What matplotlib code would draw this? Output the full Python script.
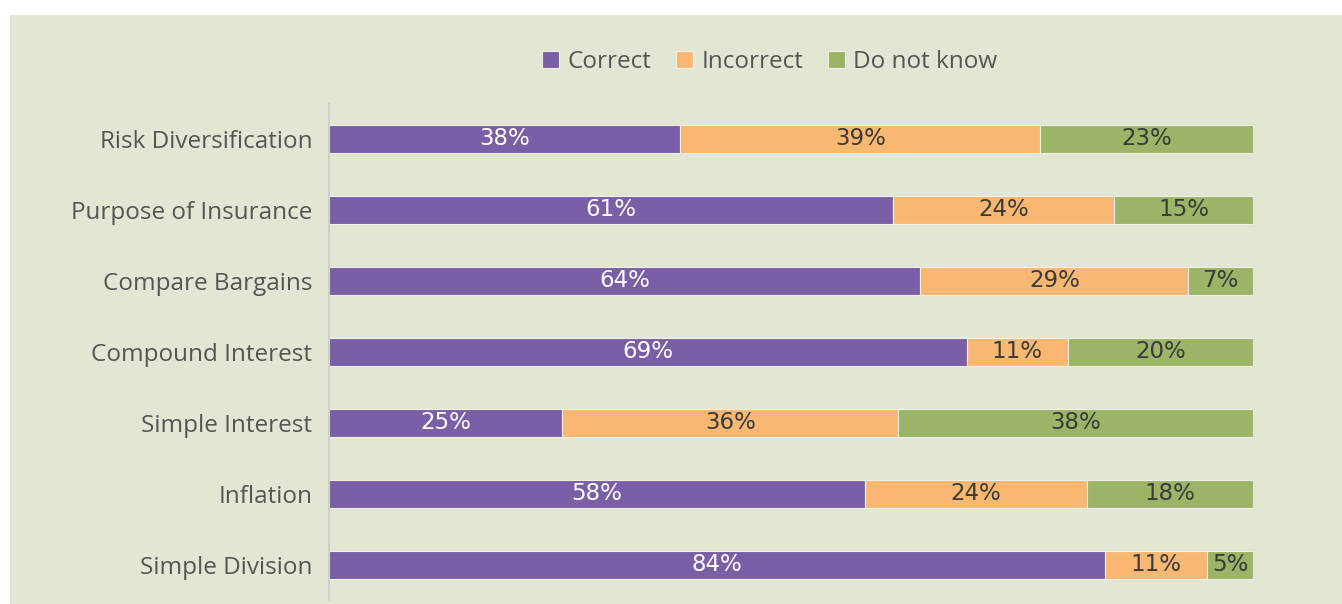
import numpy as np
import matplotlib.pyplot as plt
from matplotlib.patches import Rectangle

# --- Data ---
categories = ["Risk Diversification", "Purpose of Insurance", "Compare Bargains",
              "Compound Interest", "Simple Interest", "Inflation", "Simple Division"]
correct = [38, 61, 64, 69, 25, 58, 84]
incorrect = [39, 24, 29, 11, 36, 24, 11]
dont_know = [23, 15, 7, 20, 38, 18, 5]
series_names = ["Correct", "Incorrect", "Do not know"]

# --- Style ---
BG = "#E2E7D4"
COLORS = ["#7A5EA6", "#F9B872", "#9CB466"]
TEXT_COLORS = ["white", "#3a3a3a", "#3a3a3a"]
LABEL_FONT = "Open Sans"
NUM_FONT = ["Liberation Sans Narrow", "DejaVu Sans"]

fig = plt.figure(figsize=(13.42, 6.04), dpi=100)
fig.patch.set_facecolor("white")

# panel background (white strip on top and left, like the cropped source)
fig.add_artist(Rectangle((10 / 1342, 0), 1 - 10 / 1342, 1 - 15 / 604,
                         transform=fig.transFigure, facecolor=BG,
                         edgecolor="none", zorder=-10))

ax = fig.add_axes([329 / 1342, 4 / 604, (1253 - 329) / 1342, (600 - 103) / 604])
ax.set_facecolor("none")

data = np.array([correct, incorrect, dont_know], dtype=float)
totals = data.sum(axis=0)
shares = data / totals * 100  # 100% stacked

y = np.arange(len(categories))
left = np.zeros(len(categories))
handles = []
for k in range(3):
    bars = ax.barh(y, shares[k], left=left, height=0.39, color=COLORS[k],
                   edgecolor="#EEF0E6", linewidth=0.8, label=series_names[k])
    handles.append(bars)
    for i in range(len(categories)):
        ax.text(left[i] + shares[k][i] / 2, y[i], f"{int(data[k][i])}%",
                ha="center", va="center", fontsize=16.5, color=TEXT_COLORS[k],
                family=NUM_FONT)
    left += shares[k]

ax.set_xlim(0, 100)
ax.set_ylim(len(categories) - 0.507, -0.507)
ax.set_xticks([])
ax.set_yticks(y)
ax.set_yticklabels(categories, fontsize=17.5, color="#555555", family=LABEL_FONT)
ax.tick_params(axis="y", length=0, pad=12)
for s in ["top", "right", "bottom"]:
    ax.spines[s].set_visible(False)
ax.spines["left"].set_color("#C9CCCF")
ax.spines["left"].set_linewidth(1.2)

leg = fig.legend(handles=handles, labels=series_names, loc="center",
                 bbox_to_anchor=(770 / 1342, 1 - 62 / 604), ncol=3,
                 frameon=False, handlelength=0.7, handleheight=0.7,
                 handletextpad=0.35, columnspacing=1.0,
                 prop={"family": LABEL_FONT, "size": 17.5})
for t in leg.get_texts():
    t.set_color("#555555")

fig.savefig("out.png", dpi=100, facecolor=fig.get_facecolor())
